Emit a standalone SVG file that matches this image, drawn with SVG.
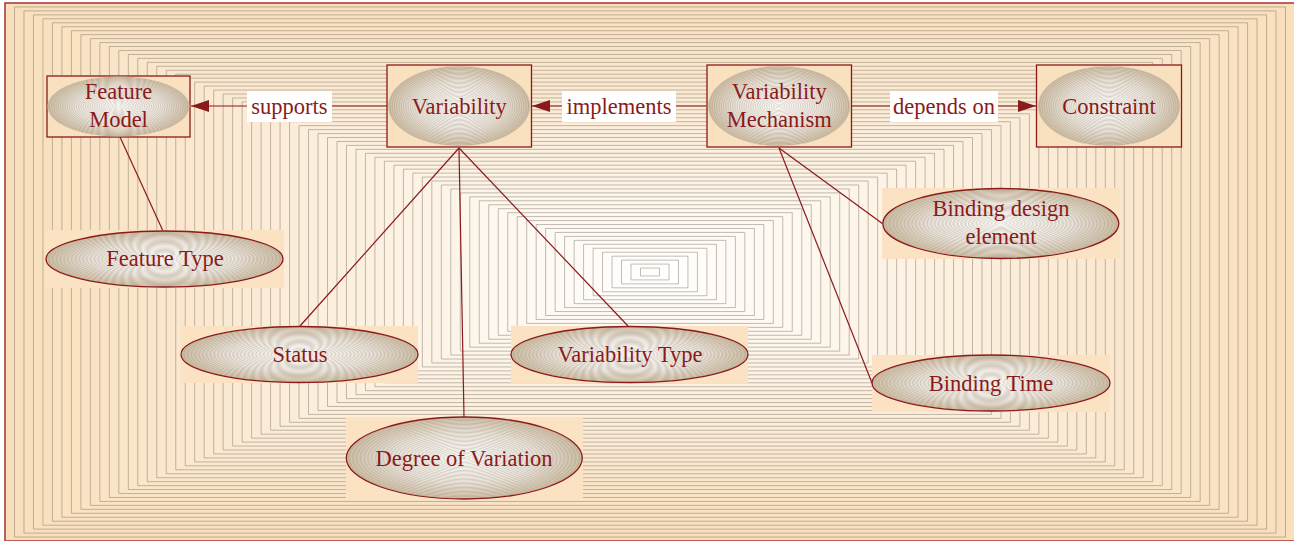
<svg xmlns="http://www.w3.org/2000/svg" xmlns:xlink="http://www.w3.org/1999/xlink" width="1294" height="541" viewBox="0 0 1294 541" font-family="Liberation Serif, Times New Roman, serif">
<style>
.t{font-size:22.5px;fill:#8b1a1a;text-anchor:middle}
.box{fill:#f9e0bf;stroke:#8b1a1a;stroke-width:1.3}
.bg{fill:#fae2c3}
.ell{fill:url(#shade)}
.ring{fill:url(#rings)}
.eo{fill:none;stroke:#8b1a1a;stroke-width:1.3}
.c{stroke:#8b1a1a;stroke-width:1.2;fill:none}
.lb{fill:#fff}
</style>
<defs>
<rect id="r" x="-645" y="-269" width="1290" height="538" stroke="#7a6e62" stroke-opacity="0.45" stroke-width="1" vector-effect="non-scaling-stroke"/>
<radialGradient id="shade" cx="0.5" cy="0.5" r="0.5">
<stop offset="0" stop-color="#fdfcfa"/>
<stop offset="0.6" stop-color="#ece6dd"/>
<stop offset="1" stop-color="#cfbfa6"/>
</radialGradient>
<radialGradient id="rings" cx="0.5" cy="0.5" r="0.016" spreadMethod="repeat">
<stop offset="0" stop-color="#8a7a66" stop-opacity="0"/>
<stop offset="0.5" stop-color="#8a7a66" stop-opacity="0.25"/>
<stop offset="1" stop-color="#8a7a66" stop-opacity="0"/>
</radialGradient>
<marker id="ah" markerUnits="userSpaceOnUse" markerWidth="20" markerHeight="14" refX="18" refY="6" orient="auto">
<path d="M0,0 L18,6 L0,12 z" fill="#8b1a1a"/>
</marker>
</defs>
<g id="background">
<rect x="5" y="3" width="1290" height="538" fill="#f9dfbc" stroke="#a83232" stroke-width="1.5"/>
<use xlink:href="#r" transform="translate(650 272) scale(0.98529)" fill="#f9dfbd"/>
<use xlink:href="#r" transform="translate(650 272) scale(0.97059)" fill="#f9e0be"/>
<use xlink:href="#r" transform="translate(650 272) scale(0.95588)" fill="#f9e0bf"/>
<use xlink:href="#r" transform="translate(650 272) scale(0.94118)" fill="#f9e1c0"/>
<use xlink:href="#r" transform="translate(650 272) scale(0.92647)" fill="#f9e1c1"/>
<use xlink:href="#r" transform="translate(650 272) scale(0.91176)" fill="#fae2c2"/>
<use xlink:href="#r" transform="translate(650 272) scale(0.89706)" fill="#fae2c3"/>
<use xlink:href="#r" transform="translate(650 272) scale(0.88235)" fill="#fae3c4"/>
<use xlink:href="#r" transform="translate(650 272) scale(0.86765)" fill="#fae3c5"/>
<use xlink:href="#r" transform="translate(650 272) scale(0.85294)" fill="#fae4c6"/>
<use xlink:href="#r" transform="translate(650 272) scale(0.83824)" fill="#fae4c7"/>
<use xlink:href="#r" transform="translate(650 272) scale(0.82353)" fill="#fae5c8"/>
<use xlink:href="#r" transform="translate(650 272) scale(0.80882)" fill="#fae5c9"/>
<use xlink:href="#r" transform="translate(650 272) scale(0.79412)" fill="#fae6ca"/>
<use xlink:href="#r" transform="translate(650 272) scale(0.77941)" fill="#fae6cb"/>
<use xlink:href="#r" transform="translate(650 272) scale(0.76471)" fill="#fae7cc"/>
<use xlink:href="#r" transform="translate(650 272) scale(0.75)" fill="#fae7cd"/>
<use xlink:href="#r" transform="translate(650 272) scale(0.73529)" fill="#fbe7ce"/>
<use xlink:href="#r" transform="translate(650 272) scale(0.72059)" fill="#fbe8cf"/>
<use xlink:href="#r" transform="translate(650 272) scale(0.70588)" fill="#fbe8d0"/>
<use xlink:href="#r" transform="translate(650 272) scale(0.69118)" fill="#fbe9d1"/>
<use xlink:href="#r" transform="translate(650 272) scale(0.67647)" fill="#fbe9d2"/>
<use xlink:href="#r" transform="translate(650 272) scale(0.66176)" fill="#fbead3"/>
<use xlink:href="#r" transform="translate(650 272) scale(0.64706)" fill="#fbead4"/>
<use xlink:href="#r" transform="translate(650 272) scale(0.63235)" fill="#fbebd5"/>
<use xlink:href="#r" transform="translate(650 272) scale(0.61765)" fill="#fbebd6"/>
<use xlink:href="#r" transform="translate(650 272) scale(0.60294)" fill="#fbecd7"/>
<use xlink:href="#r" transform="translate(650 272) scale(0.58824)" fill="#fbecd8"/>
<use xlink:href="#r" transform="translate(650 272) scale(0.57353)" fill="#fcedd9"/>
<use xlink:href="#r" transform="translate(650 272) scale(0.55882)" fill="#fcedda"/>
<use xlink:href="#r" transform="translate(650 272) scale(0.54412)" fill="#fceedb"/>
<use xlink:href="#r" transform="translate(650 272) scale(0.52941)" fill="#fceedc"/>
<use xlink:href="#r" transform="translate(650 272) scale(0.51471)" fill="#fcefdd"/>
<use xlink:href="#r" transform="translate(650 272) scale(0.5)" fill="#fcefde"/>
<use xlink:href="#r" transform="translate(650 272) scale(0.48529)" fill="#fcefde"/>
<use xlink:href="#r" transform="translate(650 272) scale(0.47059)" fill="#fcf0df"/>
<use xlink:href="#r" transform="translate(650 272) scale(0.45588)" fill="#fcf0e0"/>
<use xlink:href="#r" transform="translate(650 272) scale(0.44118)" fill="#fcf1e1"/>
<use xlink:href="#r" transform="translate(650 272) scale(0.42647)" fill="#fcf1e2"/>
<use xlink:href="#r" transform="translate(650 272) scale(0.41176)" fill="#fdf2e3"/>
<use xlink:href="#r" transform="translate(650 272) scale(0.39706)" fill="#fdf2e4"/>
<use xlink:href="#r" transform="translate(650 272) scale(0.38235)" fill="#fdf3e5"/>
<use xlink:href="#r" transform="translate(650 272) scale(0.36765)" fill="#fdf3e6"/>
<use xlink:href="#r" transform="translate(650 272) scale(0.35294)" fill="#fdf4e7"/>
<use xlink:href="#r" transform="translate(650 272) scale(0.33824)" fill="#fdf4e8"/>
<use xlink:href="#r" transform="translate(650 272) scale(0.32353)" fill="#fdf5e9"/>
<use xlink:href="#r" transform="translate(650 272) scale(0.30882)" fill="#fdf5ea"/>
<use xlink:href="#r" transform="translate(650 272) scale(0.29412)" fill="#fdf6eb"/>
<use xlink:href="#r" transform="translate(650 272) scale(0.27941)" fill="#fdf6ec"/>
<use xlink:href="#r" transform="translate(650 272) scale(0.26471)" fill="#fdf7ed"/>
<use xlink:href="#r" transform="translate(650 272) scale(0.25)" fill="#fdf7ee"/>
<use xlink:href="#r" transform="translate(650 272) scale(0.23529)" fill="#fef8ef"/>
<use xlink:href="#r" transform="translate(650 272) scale(0.22059)" fill="#fef8f0"/>
<use xlink:href="#r" transform="translate(650 272) scale(0.20588)" fill="#fef8f1"/>
<use xlink:href="#r" transform="translate(650 272) scale(0.19118)" fill="#fef9f2"/>
<use xlink:href="#r" transform="translate(650 272) scale(0.17647)" fill="#fef9f3"/>
<use xlink:href="#r" transform="translate(650 272) scale(0.16176)" fill="#fefaf4"/>
<use xlink:href="#r" transform="translate(650 272) scale(0.14706)" fill="#fefaf5"/>
<use xlink:href="#r" transform="translate(650 272) scale(0.13235)" fill="#fefbf6"/>
<use xlink:href="#r" transform="translate(650 272) scale(0.11765)" fill="#fefbf7"/>
<use xlink:href="#r" transform="translate(650 272) scale(0.10294)" fill="#fffcf8"/>
<use xlink:href="#r" transform="translate(650 272) scale(0.08824)" fill="#fffcf9"/>
<use xlink:href="#r" transform="translate(650 272) scale(0.07353)" fill="#fffdfa"/>
<use xlink:href="#r" transform="translate(650 272) scale(0.05882)" fill="#fffdfb"/>
<use xlink:href="#r" transform="translate(650 272) scale(0.04412)" fill="#fffefc"/>
<use xlink:href="#r" transform="translate(650 272) scale(0.02941)" fill="#fffefd"/>
<use xlink:href="#r" transform="translate(650 272) scale(0.01471)" fill="#fffffe"/>
</g>
<g id="connectors">
<line class="c" x1="387" y1="106" x2="191" y2="106" marker-end="url(#ah)"/>
<line class="c" x1="706" y1="106" x2="532" y2="106" marker-end="url(#ah)"/>
<line class="c" x1="852" y1="106" x2="1036" y2="106" marker-end="url(#ah)"/>
<line class="c" x1="120" y1="137" x2="163" y2="231"/>
<line class="c" x1="459" y1="148" x2="300" y2="326"/>
<line class="c" x1="459" y1="148" x2="464" y2="417"/>
<line class="c" x1="459" y1="148" x2="628" y2="326"/>
<line class="c" x1="779" y1="148" x2="883" y2="224"/>
<line class="c" x1="779" y1="148" x2="872" y2="383"/>
<g id="label-supports"><rect class="lb" x="247" y="91" width="85" height="31"/><text class="t" x="289.5" y="113.5">supports</text></g>
<g id="label-implements"><rect class="lb" x="562" y="91" width="114" height="31"/><text class="t" x="619" y="113.5">implements</text></g>
<g id="label-depends"><rect class="lb" x="890" y="91" width="108" height="31"/><text class="t" x="944" y="113.5">depends on</text></g>
</g>
<g id="node-feature-model">
<rect class="box" x="47" y="76" width="143" height="61"/>
<ellipse class="ell" cx="118.5" cy="106.5" rx="71" ry="30"/>
<ellipse class="ring" cx="118.5" cy="106.5" rx="71" ry="30"/>
<text class="t" x="118.5" y="99">Feature</text>
<text class="t" x="118.5" y="127">Model</text>
</g>
<g id="node-variability">
<rect class="box" x="387" y="65" width="144.5" height="82"/>
<ellipse class="ell" cx="459.2" cy="106" rx="71" ry="40"/>
<ellipse class="ring" cx="459.2" cy="106" rx="71" ry="40"/>
<text class="t" x="459.2" y="113.5">Variability</text>
</g>
<g id="node-variability-mechanism">
<rect class="box" x="707" y="65" width="144.5" height="82"/>
<ellipse class="ell" cx="779.2" cy="106" rx="71" ry="40"/>
<ellipse class="ring" cx="779.2" cy="106" rx="71" ry="40"/>
<text class="t" x="779.2" y="99">Variability</text>
<text class="t" x="779.2" y="127">Mechanism</text>
</g>
<g id="node-constraint">
<rect class="box" x="1036.5" y="65" width="145" height="82"/>
<ellipse class="ell" cx="1109" cy="106" rx="71" ry="40"/>
<ellipse class="ring" cx="1109" cy="106" rx="71" ry="40"/>
<text class="t" x="1109" y="113.5">Constraint</text>
</g>
<g id="node-feature-type">
<rect class="bg" x="45" y="230" width="239" height="58"/>
<ellipse class="ell" cx="164.5" cy="259" rx="118.5" ry="28"/>
<ellipse class="ring" cx="164.5" cy="259" rx="118.5" ry="28"/>
<ellipse class="eo" cx="164.5" cy="259" rx="118.5" ry="28"/>
<text class="t" x="165" y="266">Feature Type</text>
</g>
<g id="node-status">
<rect class="bg" x="181" y="326" width="237" height="57"/>
<ellipse class="ell" cx="299.5" cy="354.5" rx="118.5" ry="28"/>
<ellipse class="ring" cx="299.5" cy="354.5" rx="118.5" ry="28"/>
<ellipse class="eo" cx="299.5" cy="354.5" rx="118.5" ry="28"/>
<text class="t" x="300" y="362">Status</text>
</g>
<g id="node-variability-type">
<rect class="bg" x="511" y="326" width="237" height="57"/>
<ellipse class="ell" cx="629.5" cy="354.5" rx="118.5" ry="28"/>
<ellipse class="ring" cx="629.5" cy="354.5" rx="118.5" ry="28"/>
<ellipse class="eo" cx="629.5" cy="354.5" rx="118.5" ry="28"/>
<text class="t" x="630" y="362">Variability Type</text>
</g>
<g id="node-degree-of-variation">
<rect class="bg" x="346" y="417" width="237" height="82"/>
<ellipse class="ell" cx="464.3" cy="458" rx="118" ry="41"/>
<ellipse class="ring" cx="464.3" cy="458" rx="118" ry="41"/>
<ellipse class="eo" cx="464.3" cy="458" rx="118" ry="41"/>
<text class="t" x="464" y="465.5">Degree of Variation</text>
</g>
<g id="node-binding-design-element">
<rect class="bg" x="882" y="188" width="238" height="71"/>
<ellipse class="ell" cx="1000.8" cy="223.5" rx="118" ry="35"/>
<ellipse class="ring" cx="1000.8" cy="223.5" rx="118" ry="35"/>
<ellipse class="eo" cx="1000.8" cy="223.5" rx="118" ry="35"/>
<text class="t" x="1001" y="216">Binding design</text>
<text class="t" x="1001" y="244">element</text>
</g>
<g id="node-binding-time">
<rect class="bg" x="872" y="355" width="238" height="57"/>
<ellipse class="ell" cx="991" cy="383" rx="119" ry="28"/>
<ellipse class="ring" cx="991" cy="383" rx="119" ry="28"/>
<ellipse class="eo" cx="991" cy="383" rx="119" ry="28"/>
<text class="t" x="991" y="390.5">Binding Time</text>
</g>
</svg>
